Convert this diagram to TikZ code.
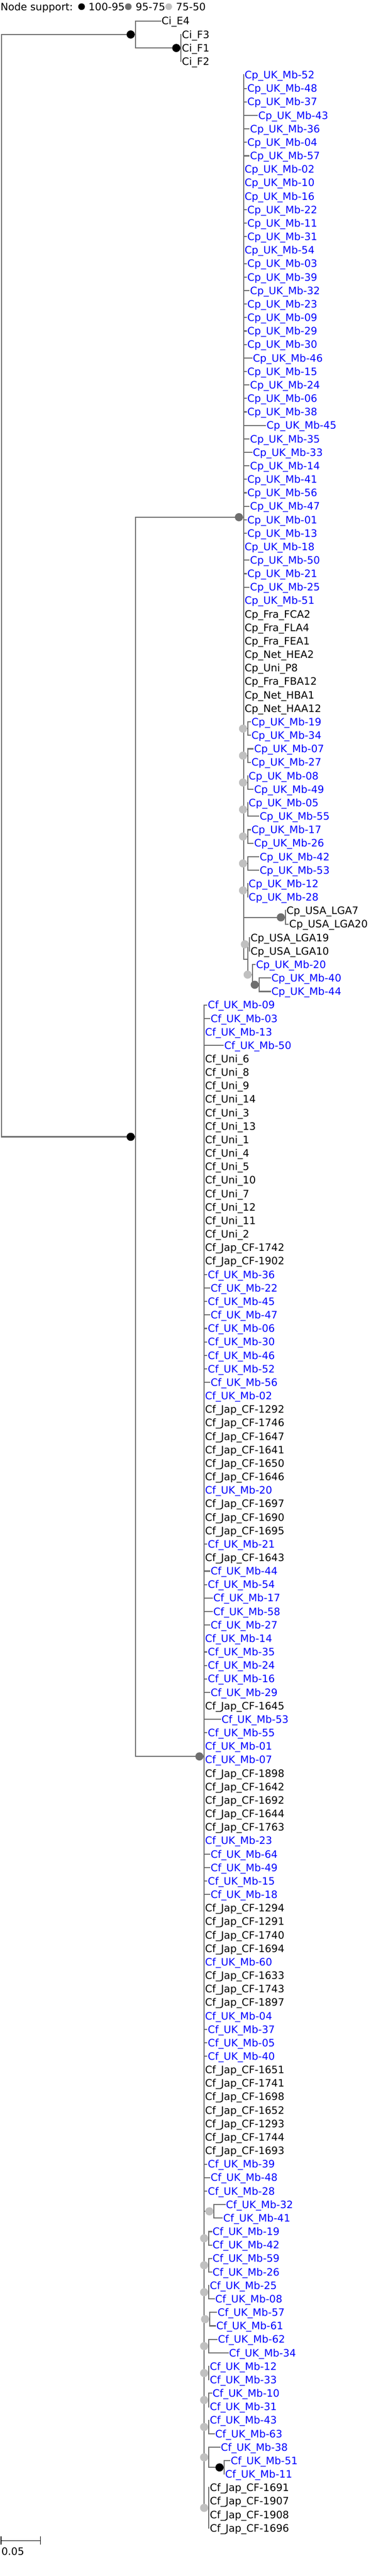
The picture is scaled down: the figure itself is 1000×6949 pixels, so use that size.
\documentclass[tikz,border=0pt]{standalone}
\usepackage{fontspec}
\setmainfont{DejaVu Sans}
\usetikzlibrary{calc}
\definecolor{branchgray}{HTML}{6E6E6E}
\definecolor{lowgray}{HTML}{C0C0C0}
\definecolor{ukblue}{HTML}{0000FF}
\newcommand{\yi}[1]{(56.7+36.36*(#1))}

\begin{document}
\begin{tikzpicture}[x=0.5pt, y=-0.5pt,
    branch/.style={draw=branchgray, line width=1.5pt, line cap=rect},
    leaf/.style={anchor=base west, inner sep=0pt, xshift=1.25pt, yshift=-5pt,
      font=\fontsize{13.75}{16}\selectfont},
    uk/.style={leaf, text=ukblue},
    support/.style={circle, inner sep=0pt, minimum size=11pt, xshift=-6.25pt},
    supporthigh/.style={support, fill=black},
    supportmid/.style={support, fill=branchgray},
    supportlow/.style={support, fill=lowgray},
    legenddot/.style={circle, inner sep=0pt, minimum size=9pt},
    scalebar/.style={draw=black, line width=1.1pt}]
  \useasboundingbox[fill=white] (0,0) rectangle (1000,6949);

  \node[leaf, xshift=0pt] (legend) at (-1.5,18) {Node support:};
  \node[legenddot, fill=black] (keyhigh) at (220,18) {};
  \node[leaf, xshift=0pt] (keyhightext) at (236,18) {100-95};
  \node[legenddot, fill=branchgray] (keymid) at (346,18) {};
  \node[leaf, xshift=0pt] (keymidtext) at (363,18) {95-75};
  \node[legenddot, fill=lowgray] (keylow) at (455,18) {};
  \node[leaf, xshift=0pt] (keylowtext) at (472,18) {75-50};

  \coordinate (root) at (4.5,{\yi{41.890625}});
  \coordinate (Ci) at (365,{\yi{1}});
  \coordinate (CiF) at (488,{\yi{2}});
  \coordinate (CpCf) at (365,{\yi{82.78125}});
  \coordinate (Cp) at (657,{\yi{36.8125}});
  \coordinate (Cf) at (550.4,{\yi{128.75}});
  \coordinate (LGA) at (770,{\yi{66.5}});
  \coordinate (X) at (668,{\yi{69.625}});
  \coordinate (A) at (673,{\yi{68.5}});
  \coordinate (B) at (680.5,{\yi{70.75}});
  \coordinate (N4044) at (699.6,{\yi{71.5}});
  \coordinate (N38) at (563.1,{\yi{180.75}});
  \coordinate (N5111) at (604.6,{\yi{181.5}});
  \coordinate (Njap) at (563.1,{\yi{184.5}});

  \draw[branch] (root |- Ci) -- (root |- CpCf);
  \draw[branch] (root |- Ci) -- (Ci);
  \draw[branch] (root |- CpCf) -- (CpCf);

  \coordinate (t0) at (433,{\yi{0}});
  \foreach \i in {1,2,3} \coordinate (t\i) at (488,{\yi{\i}});
  \draw[branch] (Ci |- t0) -- (Ci |- CiF);
  \draw[branch] (Ci |- t0) -- (t0);
  \draw[branch] (Ci |- CiF) -- (CiF);
  \draw[branch] (CiF |- t1) -- (CiF |- t3);
  \node[leaf] (l0) at (t0) {Ci\_E4};
  \node[leaf] (l1) at (t1) {Ci\_F3};
  \node[leaf] (l2) at (t2) {Ci\_F1};
  \node[leaf] (l3) at (t3) {Ci\_F2};

  \draw[branch] (CpCf |- Cp) -- (CpCf |- Cf);
  \draw[branch] (CpCf |- Cp) -- (Cp);
  \draw[branch] (CpCf |- Cf) -- (Cf);

  \foreach \i/\mb/\kk in {4/52/0, 5/48/1, 6/37/1, 7/43/5, 8/36/2, 9/04/1, 10/57/2,
      11/02/0, 12/10/0, 13/16/0, 14/22/1, 15/11/1, 16/31/1, 17/54/0, 18/03/1,
      19/39/1, 20/32/2, 21/23/1, 22/09/1, 23/29/1, 24/30/1, 25/46/3, 26/15/1,
      27/24/2, 28/06/1, 29/38/1, 30/45/8, 31/35/2, 32/33/3, 33/14/2, 34/41/1,
      35/56/1, 36/47/2, 37/01/1, 38/13/1, 39/18/0, 40/50/2, 41/21/1, 42/25/2,
      43/51/0} {
    \coordinate (t\i) at ({657+7.4*\kk},{\yi{\i}});
    \draw[branch] (Cp |- t\i) -- (t\i);
    \node[uk] (l\i) at (t\i) {Cp\_UK\_Mb-\mb};
  }
  \foreach \i/\txt in {44/Cp\_Fra\_FCA2, 45/Cp\_Fra\_FLA4, 46/Cp\_Fra\_FEA1,
      47/Cp\_Net\_HEA2, 48/Cp\_Uni\_P8, 49/Cp\_Fra\_FBA12, 50/Cp\_Net\_HBA1,
      51/Cp\_Net\_HAA12} {
    \coordinate (t\i) at (657,{\yi{\i}});
    \node[leaf] (l\i) at (t\i) {\txt};
  }
  \draw[branch] (Cp |- t4) -- (Cp |- X);

  \foreach \i/\ma/\ka/\mb/\kb in {52/19/1/34/1, 54/07/2/27/1, 56/08/0/49/2,
      58/05/0/55/4, 60/17/1/26/2, 62/42/4/53/4, 64/12/0/28/0} {
    \pgfmathtruncatemacro\jj{\i+1}
    \coordinate (p\i) at (668,{\yi{\i+0.5}});
    \coordinate (t\i) at ({668+7.4*\ka},{\yi{\i}});
    \coordinate (t\jj) at ({668+7.4*\kb},{\yi{\jj}});
    \draw[branch] (Cp |- p\i) -- (p\i);
    \draw[branch] (p\i |- t\i) -- (p\i |- t\jj);
    \draw[branch] (p\i |- t\i) -- (t\i);
    \draw[branch] (p\i |- t\jj) -- (t\jj);
    \node[uk] (l\i) at (t\i) {Cp\_UK\_Mb-\ma};
    \node[uk] (l\jj) at (t\jj) {Cp\_UK\_Mb-\mb};
    \node[supportlow] (s\i) at (p\i) {};
  }

  \coordinate (t66) at (770,{\yi{66}});
  \coordinate (t67) at (777.4,{\yi{67}});
  \draw[branch] (Cp |- LGA) -- (LGA);
  \draw[branch] (LGA |- t66) -- (LGA |- t67);
  \draw[branch] (LGA |- t67) -- (t67);
  \node[leaf] (l66) at (t66) {Cp\_USA\_LGA7};
  \node[leaf] (l67) at (t67) {Cp\_USA\_LGA20};
  \node[supportmid] (sLGA) at (LGA) {};

  \coordinate (t68) at (673,{\yi{68}});
  \coordinate (t69) at (673,{\yi{69}});
  \coordinate (t70) at (687.9,{\yi{70}});
  \coordinate (t71) at (729.2,{\yi{71}});
  \coordinate (t72) at (729.2,{\yi{72}});
  \draw[branch] (Cp |- X) -- (X);
  \draw[branch] (X |- A) -- (X |- B);
  \draw[branch] (X |- A) -- (A);
  \draw[branch] (X |- B) -- (B);
  \draw[branch] (A |- t68) -- (A |- t69);
  \draw[branch] (B |- t70) -- (B |- N4044);
  \draw[branch] (B |- t70) -- (t70);
  \draw[branch] (B |- N4044) -- (N4044);
  \draw[branch] (N4044 |- t71) -- (N4044 |- t72);
  \draw[branch] (N4044 |- t71) -- (t71);
  \draw[branch] (N4044 |- t72) -- (t72);
  \node[leaf] (l68) at (t68) {Cp\_USA\_LGA19};
  \node[leaf] (l69) at (t69) {Cp\_USA\_LGA10};
  \node[uk] (l70) at (t70) {Cp\_UK\_Mb-20};
  \node[uk] (l71) at (t71) {Cp\_UK\_Mb-40};
  \node[uk] (l72) at (t72) {Cp\_UK\_Mb-44};
  \node[supportlow] (sA) at (A) {};
  \node[supportlow] (sB) at (B) {};
  \node[supportmid] (sN4044) at (N4044) {};

  \foreach \i/\mb/\kk in {73/09/1, 74/03/2, 75/13/0, 76/50/7, 93/36/1, 94/22/2,
      95/45/1, 96/47/2, 97/06/1, 98/30/1, 99/46/1, 100/52/1, 101/56/2, 102/02/0,
      109/20/0, 113/21/1, 115/44/2, 116/54/1, 117/17/3, 118/58/3, 119/27/2,
      120/14/0, 121/35/1, 122/24/1, 123/16/1, 124/29/2, 126/53/6, 127/55/1,
      128/01/0, 129/07/0, 135/23/0, 136/64/2, 137/49/2, 138/15/1, 139/18/2,
      144/60/0, 148/04/0, 149/37/1, 150/05/1, 151/40/1, 159/39/1, 160/48/2,
      161/28/1} {
    \coordinate (t\i) at ({550.4+7.4*\kk},{\yi{\i}});
    \draw[branch] (Cf |- t\i) -- (t\i);
    \node[uk] (l\i) at (t\i) {Cf\_UK\_Mb-\mb};
  }
  \foreach \i/\txt in {77/Uni\_6, 78/Uni\_8, 79/Uni\_9, 80/Uni\_14, 81/Uni\_3,
      82/Uni\_13, 83/Uni\_1, 84/Uni\_4, 85/Uni\_5, 86/Uni\_10, 87/Uni\_7,
      88/Uni\_12, 89/Uni\_11, 90/Uni\_2, 91/Jap\_CF-1742, 92/Jap\_CF-1902,
      103/Jap\_CF-1292, 104/Jap\_CF-1746, 105/Jap\_CF-1647, 106/Jap\_CF-1641,
      107/Jap\_CF-1650, 108/Jap\_CF-1646, 110/Jap\_CF-1697, 111/Jap\_CF-1690,
      112/Jap\_CF-1695, 114/Jap\_CF-1643, 125/Jap\_CF-1645, 130/Jap\_CF-1898,
      131/Jap\_CF-1642, 132/Jap\_CF-1692, 133/Jap\_CF-1644, 134/Jap\_CF-1763,
      140/Jap\_CF-1294, 141/Jap\_CF-1291, 142/Jap\_CF-1740, 143/Jap\_CF-1694,
      145/Jap\_CF-1633, 146/Jap\_CF-1743, 147/Jap\_CF-1897, 152/Jap\_CF-1651,
      153/Jap\_CF-1741, 154/Jap\_CF-1698, 155/Jap\_CF-1652, 156/Jap\_CF-1293,
      157/Jap\_CF-1744, 158/Jap\_CF-1693} {
    \coordinate (t\i) at (550.4,{\yi{\i}});
    \node[leaf] (l\i) at (t\i) {Cf\_\txt};
  }
  \draw[branch] (Cf |- t73) -- (Cf |- Njap);

  \foreach \i/\vx/\ma/\ka/\mb/\kb in {162/577.2/32/4/41/3, 164/563.1/19/1/42/1,
      166/563.1/59/1/26/1, 168/563.1/25/0/08/2, 170/565.7/57/2.5/61/2,
      172/563.1/62/3/34/7, 174/563.1/12/0/33/0, 176/563.1/10/1/31/0,
      178/563.1/43/0/63/2} {
    \pgfmathtruncatemacro\jj{\i+1}
    \coordinate (p\i) at (\vx,{\yi{\i+0.5}});
    \coordinate (t\i) at ({\vx+7.4*\ka},{\yi{\i}});
    \coordinate (t\jj) at ({\vx+7.4*\kb},{\yi{\jj}});
    \draw[branch] (Cf |- p\i) -- (p\i);
    \draw[branch] (p\i |- t\i) -- (p\i |- t\jj);
    \draw[branch] (p\i |- t\i) -- (t\i);
    \draw[branch] (p\i |- t\jj) -- (t\jj);
    \node[uk] (l\i) at (t\i) {Cf\_UK\_Mb-\ma};
    \node[uk] (l\jj) at (t\jj) {Cf\_UK\_Mb-\mb};
    \node[supportlow] (s\i) at (p\i) {};
  }

  \coordinate (t180) at (592.7,{\yi{180}});
  \coordinate (t181) at (619.4,{\yi{181}});
  \coordinate (t182) at (604.6,{\yi{182}});
  \draw[branch] (Cf |- N38) -- (N38);
  \draw[branch] (N38 |- t180) -- (N38 |- N5111);
  \draw[branch] (N38 |- t180) -- (t180);
  \draw[branch] (N38 |- N5111) -- (N5111);
  \draw[branch] (N5111 |- t181) -- (N5111 |- t182);
  \draw[branch] (N5111 |- t181) -- (t181);
  \node[uk] (l180) at (t180) {Cf\_UK\_Mb-38};
  \node[uk] (l181) at (t181) {Cf\_UK\_Mb-51};
  \node[uk] (l182) at (t182) {Cf\_UK\_Mb-11};
  \node[supportlow] (sN38) at (N38) {};
  \node[supporthigh] (sN5111) at (N5111) {};

  \foreach \i/\txt in {183/1691, 184/1907, 185/1908, 186/1696} {
    \coordinate (t\i) at (563.1,{\yi{\i}});
    \node[leaf] (l\i) at (t\i) {Cf\_Jap\_CF-\txt};
  }
  \draw[branch] (Cf |- Njap) -- (Njap);
  \draw[branch] (Njap |- t183) -- (Njap |- t186);
  \node[supportlow] (sNjap) at (Njap) {};

  \node[supporthigh] (sCi) at (Ci) {};
  \node[supporthigh] (sCiF) at (CiF) {};
  \node[supporthigh] (sCpCf) at (CpCf) {};
  \node[supportmid] (sCp) at (Cp) {};
  \node[supportmid] (sCf) at (Cf) {};

  \coordinate (sb0) at (2.5,6853.5);
  \coordinate (sb1) at (109,6853.5);
  \draw[scalebar] (sb0) -- (sb1);
  \draw[scalebar] ($(sb0)+(0,-11)$) -- ($(sb0)+(0,11)$);
  \draw[scalebar] ($(sb1)+(0,-11)$) -- ($(sb1)+(0,11)$);
  \node[leaf, xshift=0pt] (sblabel) at (1,6882) {0.05};
\end{tikzpicture}
\end{document}
